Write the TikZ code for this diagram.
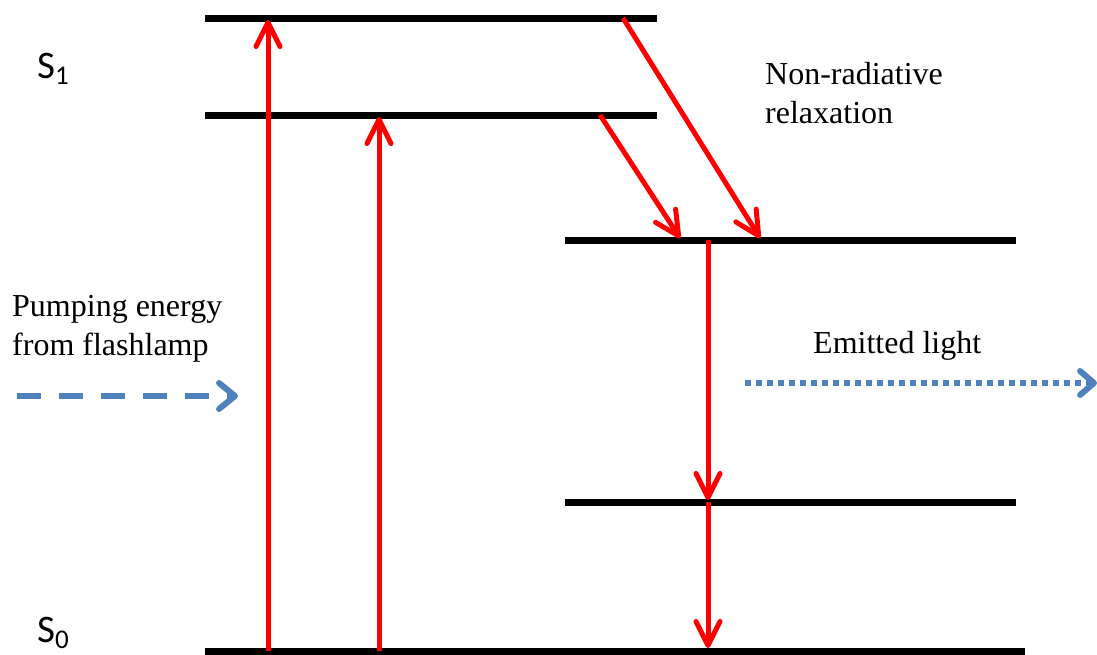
\documentclass[tikz,border=0pt]{standalone}
\usepackage{fontspec}
\setmainfont{Liberation Serif}
\newfontfamily\calfont{Carlito}
\usetikzlibrary{arrows.meta}
\definecolor{lblue}{HTML}{4F81BD}
\newcommand{\stlabel}[1]{S\raisebox{-6pt}{\fontsize{27}{27}\selectfont #1}}
\begin{document}
\begin{tikzpicture}[x=1pt,y=-1pt,
  level/.style={line width=7pt,black},
  trans/.style={line width=5pt,red,-{Straight Barb[length=24pt,width=24pt,round]}},
  pump/.style={line width=6pt,lblue,dash pattern=on 24pt off 18pt,-{Straight Barb[length=16pt,width=26pt,round]}},
  emit/.style={line width=6pt,lblue,dash pattern=on 6pt off 5pt,-{Straight Barb[length=14pt,width=24pt,round]}},
  lbl/.style={font=\fontsize{32}{39}\selectfont,align=left,inner sep=0pt},
  state/.style={font=\calfont\fontsize{39}{39}\selectfont,inner sep=0pt}]
\useasboundingbox (0,0) rectangle (1097,654);
% levels
\coordinate (a1) at (205,18);  \coordinate (a2) at (657,18);
\coordinate (b1) at (205,115); \coordinate (b2) at (657,115);
\coordinate (c1) at (565,240); \coordinate (c2) at (1016,240);
\coordinate (d1) at (565,502); \coordinate (d2) at (1016,502);
\coordinate (g1) at (205,651); \coordinate (g2) at (1025,651);
\draw[level] (a1) -- (a2);
\draw[level] (b1) -- (b2);
\draw[level] (c1) -- (c2);
\draw[level] (d1) -- (d2);
\draw[level] (g1) -- (g2);
% transition points
\coordinate (u1s) at (268,651); \coordinate (u1e) at (268,20);
\coordinate (u2s) at (379,651); \coordinate (u2e) at (379,117);
\coordinate (n1s) at (623,18);  \coordinate (n1e) at (760,238);
\coordinate (n2s) at (600,115); \coordinate (n2e) at (680,238);
\coordinate (e1s) at (708,240); \coordinate (e1e) at (708,500);
\coordinate (e2s) at (708,502); \coordinate (e2e) at (708,648);
\draw[trans] (u1s) -- (u1e);
\draw[trans] (u2s) -- (u2e);
\draw[trans] (n1s) -- (n1e);
\draw[trans] (n2s) -- (n2e);
\draw[trans] (e1s) -- (e1e);
\draw[trans] (e2s) -- (e2e);
% labels
\node[state,anchor=base west] (s1) at (37,78) {\stlabel{1}};
\node[state,anchor=base west] (s0) at (37,642) {\stlabel{0}};
\node[lbl,anchor=base west] (nr) at (765,123) {Non-radiative\\relaxation};
\node[lbl,anchor=base west] (pe) at (12,355) {Pumping energy\\from flashlamp};
\node[lbl,anchor=base west] (el) at (813,353) {Emitted light};
% pump and emission arrows
\coordinate (ps) at (17,396); \coordinate (pe2) at (238,396);
\coordinate (es) at (745,383); \coordinate (ee) at (1097,383);
\draw[pump] (ps) -- (pe2);
\draw[emit] (es) -- (ee);
\end{tikzpicture}
\end{document}
